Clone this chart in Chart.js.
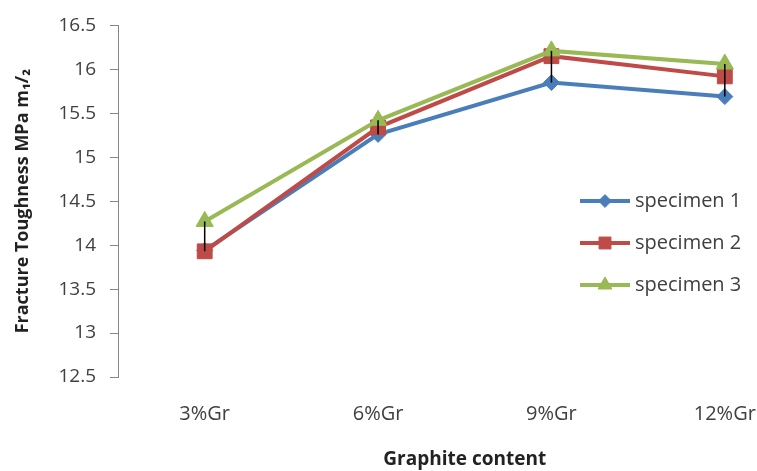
<!DOCTYPE html>
<html>
<head>
<meta charset="utf-8">
<script src="https://cdn.jsdelivr.net/npm/chart.js@4.4.1/dist/chart.umd.min.js"></script>
<style>
  html, body { margin: 0; padding: 0; background: #fff; overflow: hidden; }
  #wrap { width: 823px; height: 471px; }
</style>
</head>
<body>
<div id="wrap"><canvas id="lineChart"></canvas></div>
<script>
// data
const categories = ["3%Gr", "6%Gr", "9%Gr", "12%Gr"];
const specimen1 = [13.94, 15.26, 15.85, 15.69];
const specimen2 = [13.93, 15.34, 16.15, 15.92];
const specimen3 = [14.27, 15.42, 16.21, 16.06];
const seriesNames = ["specimen 1", "specimen 2", "specimen 3"];

const FONT = "'Open Sans', sans-serif";
const textColor = "#404040";

// black high-low lines across the series at each category
const hiLoLines = {
  id: "hiLoLines",
  afterDatasetsDraw(chart) {
    const ctx = chart.ctx;
    const x = chart.scales.x, y = chart.scales.y;
    const sets = chart.data.datasets.map(d => d.data);
    ctx.save();
    ctx.strokeStyle = "#000";
    ctx.lineWidth = 1.5;
    categories.forEach((c, i) => {
      const vals = sets.map(s => s[i]);
      const px = x.getPixelForValue(i);
      ctx.beginPath();
      ctx.moveTo(px, y.getPixelForValue(Math.max(...vals)));
      ctx.lineTo(px, y.getPixelForValue(Math.min(...vals)));
      ctx.stroke();
    });
    ctx.restore();
  }
};

// legend placed inside the plot like the original
const floatLegend = {
  id: "floatLegend",
  afterDraw(chart) {
    const ctx = chart.ctx;
    const left = 580, top = 201, gap = 42;
    ctx.save();
    chart.data.datasets.forEach((ds, i) => {
      const yy = top + i * gap;
      ctx.strokeStyle = ds.borderColor;
      ctx.lineWidth = 4;
      ctx.beginPath();
      ctx.moveTo(left, yy);
      ctx.lineTo(left + 50, yy);
      ctx.stroke();
      ctx.fillStyle = ds.backgroundColor;
      ctx.strokeStyle = ds.borderColor;
      ctx.lineWidth = 1;
      Chart.helpers.drawPoint(ctx, {
        pointStyle: ds.pointStyle,
        radius: ds.pointRadius * 0.8,
        rotation: 0,
        borderWidth: 1
      }, left + 25, yy);
      ctx.fillStyle = textColor;
      ctx.font = "20px " + FONT;
      ctx.textBaseline = "middle";
      ctx.fillText(ds.label, left + 55, yy);
    });
    ctx.restore();
  }
};

new Chart(document.getElementById("lineChart").getContext("2d"), {
  type: "line",
  data: {
    labels: categories,
    datasets: [
      { label: seriesNames[0], data: specimen1, borderColor: "#4a7ebb", backgroundColor: "#4a7ebb",
        pointStyle: "rectRot", pointRadius: 8, order: 2 },
      { label: seriesNames[1], data: specimen2, borderColor: "#be4b48", backgroundColor: "#be4b48",
        pointStyle: "rect", pointRadius: 10.5, order: 1 },
      { label: seriesNames[2], data: specimen3, borderColor: "#98b954", backgroundColor: "#98b954",
        pointStyle: "triangle", pointRadius: 10, order: 0 }
    ].map(d => Object.assign({ borderWidth: 4, tension: 0, pointBorderWidth: 1, pointHoverRadius: d.pointRadius }, d))
  },
  options: {
    responsive: true,
    maintainAspectRatio: false,
    animation: false,
    layout: { padding: { top: 23, right: 0, left: 0, bottom: 0 } },
    plugins: { legend: { display: false }, tooltip: { enabled: false } },
    scales: {
      x: {
        offset: true,
        grid: { display: false },
        border: { display: false },
        ticks: { color: textColor, font: { family: FONT, size: 20 }, padding: 17 },
        title: { display: true, text: "Graphite content", color: "#222",
          font: { family: FONT, size: 19, weight: "bold" }, padding: { top: 0, bottom: 0 } },
        afterFit(scale) { scale.height = 94; }
      },
      y: {
        min: 12.5,
        max: 16.5,
        ticks: { stepSize: 0.5, color: textColor, font: { family: FONT, size: 19 }, padding: 14,
          callback: v => String(v) },
        grid: { drawOnChartArea: false, tickLength: 8, color: "#868686" },
        border: { display: true, color: "#868686", width: 1 },
        title: { display: true, text: "Fracture Toughness MPa m\u2081/\u2082", color: "#222",
          font: { family: FONT, size: 18, weight: "bold" }, padding: { top: 12, bottom: 0 } },
        afterFit(scale) { scale.width = 118; }
      }
    }
  },
  plugins: [hiLoLines, floatLegend]
});
</script>
</body>
</html>
